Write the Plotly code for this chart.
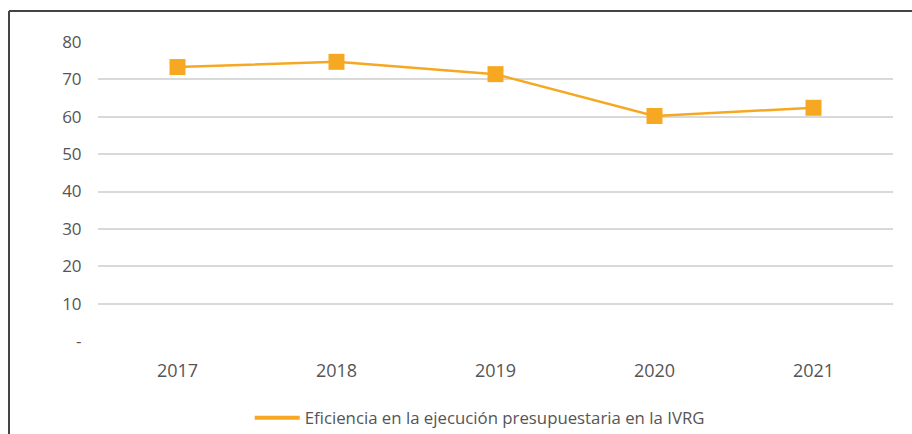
import plotly.graph_objects as go

# datos
years = ["2017", "2018", "2019", "2020", "2021"]
eficiencia = [73.3, 74.7, 71.4, 60.2, 62.4]
y_ticks = [0, 10, 20, 30, 40, 50, 60, 70, 80]
y_labels = ["-", "10", "20", "30", "40", "50", "60", "70", "80"]
serie = "Eficiencia en la ejecución presupuestaria en la IVRG"

naranja = "#F7A823"
gris_txt = "#555555"

fig = go.Figure()

# linea + marcadores cuadrados
fig.add_trace(go.Scatter(
    x=years, y=eficiencia, mode="lines+markers",
    line=dict(color=naranja, width=2.5),
    marker=dict(symbol="square", size=16, color=naranja),
    showlegend=False, name=serie,
))
# entrada de leyenda (solo linea, mas gruesa)
fig.add_trace(go.Scatter(
    x=[None], y=[None], mode="lines",
    line=dict(color=naranja, width=4),
    name=serie, hoverinfo="skip",
))

# marco del grafico (arriba y a la izquierda)
top_y = (434 - 11 - 93) / 299
left_x = (9 - 98) / 795

fig.update_layout(
    width=912, height=434,
    margin=dict(l=98, r=19, t=42, b=93),
    paper_bgcolor="white", plot_bgcolor="white",
    font=dict(family="Open Sans, Roboto, sans-serif", size=17, color=gris_txt),
    legend=dict(
        orientation="h", xref="container", yref="container",
        x=0.526, xanchor="center", y=0.037, yanchor="middle",
        font=dict(size=16.8, color=gris_txt),
        itemwidth=45,
    ),
    shapes=[
        dict(type="line", xref="paper", yref="paper", x0=left_x, x1=1.1,
             y0=top_y, y1=top_y, line=dict(color="#444444", width=2)),
        dict(type="line", xref="paper", yref="paper", x0=left_x, x1=left_x,
             y0=-0.5, y1=top_y, line=dict(color="#444444", width=2)),
    ],
)

fig.update_xaxes(
    showgrid=False, showline=False, zeroline=False,
    ticks="outside", ticklen=13, tickcolor="rgba(0,0,0,0)",
    tickfont=dict(size=18),
    range=[-0.5, 4.5],
)
fig.update_yaxes(
    range=[0, 80], tickmode="array", tickvals=y_ticks, ticktext=y_labels,
    showgrid=True, gridcolor="#D9D9D9", gridwidth=1.5,
    zeroline=False, showline=False,
    ticks="outside", ticklen=12, tickcolor="rgba(0,0,0,0)",
)

fig.write_html("out.html", config={"displayModeBar": False},
               post_script="document.body.style.margin='0';")
